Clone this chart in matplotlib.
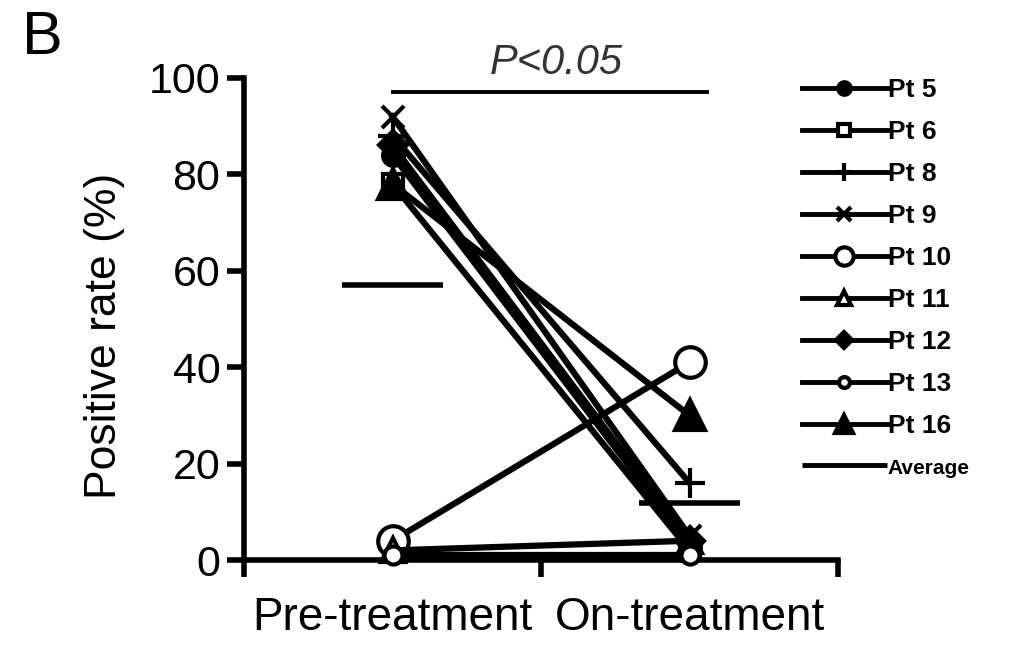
import numpy as np
import matplotlib.pyplot as plt

plt.rcParams['font.family'] = ['Liberation Sans', 'DejaVu Sans']

# positive rate (%) per patient, before and during treatment
patients = ['Pt 5', 'Pt 6', 'Pt 8', 'Pt 9', 'Pt 10', 'Pt 11', 'Pt 12', 'Pt 13', 'Pt 16']
pre_rate = [84, 78, 88, 92, 4, 2, 86, 1, 78]
on_rate = [3, 2, 16, 5, 41, 4, 4, 1, 30]
groups = ['Pre-treatment', 'On-treatment']

# marker, filled?, size
styles = [
    ('o', True, 15),
    ('s', False, 15),
    ('+', True, 22),
    ('x', True, 16),
    ('o', False, 22),
    ('^', False, 17),
    ('D', True, 14),
    ('o', False, 13),
    ('^', True, 21),
]

fig = plt.figure(figsize=(10.18, 6.53), dpi=100)
ax = fig.add_axes([0.2397, 0.1424, 0.5835, 0.7382])

xpos = np.array([0.5, 1.5])
handles = []
for name, pre, on, (mk, filled, ms) in zip(patients, pre_rate, on_rate, styles):
    h, = ax.plot(xpos, [pre, on], color='black', lw=4.5, marker=mk,
                 markersize=ms, markerfacecolor='black' if filled else 'white',
                 markeredgecolor='black', markeredgewidth=3, label=name,
                 clip_on=False, zorder=3)
    handles.append(h)

# group means as short horizontal bars
means = [np.mean(pre_rate), np.mean(on_rate)]
for x, m in zip(xpos, means):
    avg, = ax.plot([x - 0.17, x + 0.17], [m, m], color='black', lw=4,
                   solid_capstyle='butt', zorder=4)
avg.set_label('Average')
handles.append(avg)

ax.set_xlim(0, 2)
ax.set_ylim(0, 100)
ax.set_yticks([0, 20, 40, 60, 80, 100])
ax.set_xticks([0, 1, 2])
ax.set_xticklabels([])
ax.set_xticks(xpos, minor=True)
ax.set_xticklabels(groups, minor=True)
ax.tick_params(axis='x', which='minor', length=0, pad=26, labelsize=33)
ax.tick_params(axis='both', which='major', length=12, width=4,
               labelsize=31, pad=5, direction='out')
for s in ['top', 'right']:
    ax.spines[s].set_visible(False)
for s in ['left', 'bottom']:
    ax.spines[s].set_linewidth(4)
ax.set_ylabel('Positive rate (%)', fontsize=32)
ax.yaxis.set_label_coords(-0.2, 0.465)

# significance bar
ax.plot([0.5, 1.56], [97, 97], color='black', lw=2.8, clip_on=False)
ax.text(1.05, 99, 'P<0.05', ha='center', va='bottom', fontsize=30,
        style='italic', color='#333333')

leg = fig.legend(handles=handles, loc='upper left',
                 bbox_to_anchor=(0.775, 0.9), frameon=False,
                 fontsize=19, handlelength=3.2, handletextpad=0.05,
                 labelspacing=0.68, markerscale=0.6, borderpad=0)
for t in leg.get_texts():
    t.set_fontweight('bold')
leg.get_texts()[-1].set_fontsize(15)
for ln in leg.get_lines():
    ln.set_linewidth(3.5)

fig.text(0.022, 0.985, 'B', fontsize=44, va='top', ha='left')

fig.savefig('out.png', dpi=100)
